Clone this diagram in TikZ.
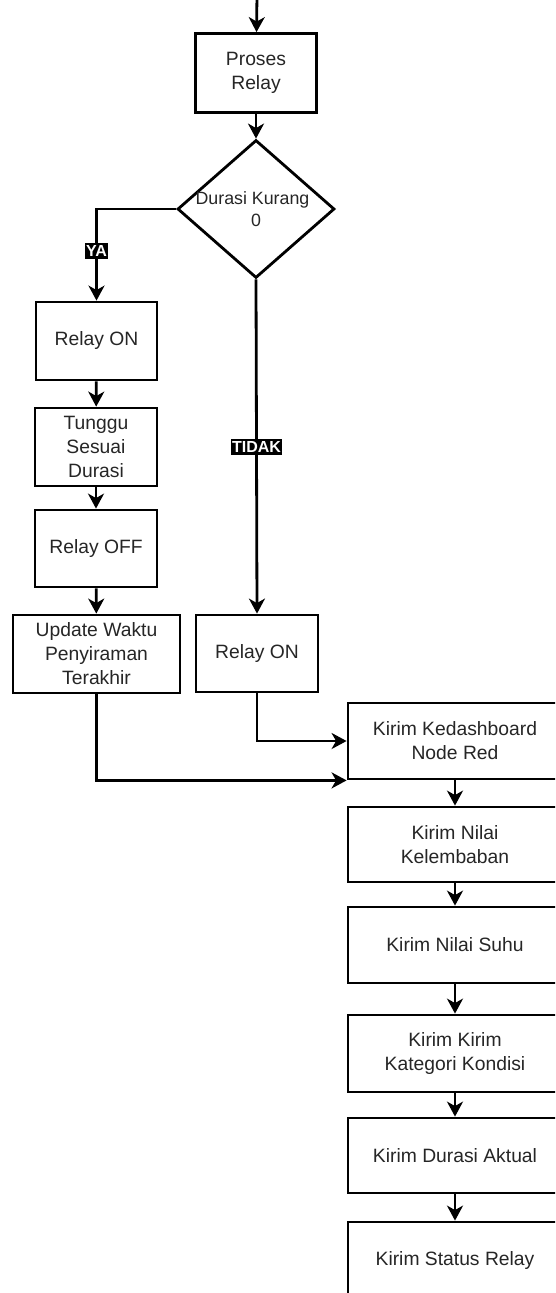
\documentclass[tikz,border=0pt]{standalone}
\usepackage{fontspec}
\setmainfont{Liberation Sans}
\usetikzlibrary{shapes.geometric,arrows.meta}
\definecolor{txt}{HTML}{262626}
\begin{document}
\begin{tikzpicture}[x=1pt,y=-1pt,
  box/.style={draw=black,line width=2.8pt,rectangle,inner sep=0pt,align=center,text=txt,
    font=\fontsize{19.3}{24}\selectfont},
  dia/.style={draw=black,line width=2.8pt,diamond,aspect=1.138,inner sep=0pt,align=center,text=txt,
    minimum width=157pt,minimum height=138pt,font=\fontsize{17.8}{22.5}\selectfont},
  flow/.style={draw=black,line width=2.8pt,-{Stealth[length=15pt,width=16pt,inset=4.5pt]}},
  tag/.style={fill=black,text=white,inner xsep=1pt,inner ysep=2.5pt,
    font=\fontsize{16}{16}\selectfont\bfseries}
]
\useasboundingbox (0,0) rectangle (555,1293);
\clip (0,0) rectangle (555,1293);
\fill[white] (0,0) rectangle (555,1293);

\coordinate (start) at (257,-5);
\node[box,minimum width=121pt,minimum height=79pt] (proses) at (256,73) {Proses\\Relay};
\node[dia] (dec) at (256,209) {\makebox[0pt]{\hspace*{-7pt}Durasi Kurang}\\0};
\node[box,minimum width=121pt,minimum height=78pt] (relon1) at (96.5,341) {Relay ON};
\node[box,minimum width=122pt,minimum height=78pt] (tunggu) at (96,447) {Tunggu\\Sesuai\\Durasi};
\node[box,minimum width=122pt,minimum height=77pt] (reloff) at (96,548.5) {Relay OFF};
\node[box,minimum width=167pt,minimum height=78pt] (update) at (96.5,654) {Update Waktu\\Penyiraman\\Terakhir};
\node[box,minimum width=122pt,minimum height=77pt] (relon2) at (257,653.5) {Relay ON};
\node[box,minimum width=214pt,minimum height=76pt] (k1) at (455,741) {Kirim Kedashboard\\Node Red};
\node[box,minimum width=214pt,minimum height=75pt] (k2) at (455,844.5) {Kirim Nilai\\Kelembaban};
\node[box,minimum width=214pt,minimum height=76pt] (k3) at (455,945) {Kirim Nilai Suhu};
\node[box,minimum width=214pt,minimum height=77pt] (k4) at (455,1053.5) {Kirim Kirim\\Kategori Kondisi};
\node[box,minimum width=214pt,minimum height=75pt] (k5) at (455,1155.5) {Kirim Durasi Aktual};
\node[box,minimum width=214pt,minimum height=76pt] (k6) at (455,1260) {Kirim Status Relay};

\draw[flow] (start) -- (proses);
\draw[flow] (proses) -- (dec);
\draw[flow] (dec.west) -| (relon1.north) node[tag,pos=0.73] (ya) {YA};
\draw[flow] (relon1) -- (tunggu);
\draw[flow] (tunggu) -- (reloff);
\draw[flow] (reloff) -- (update);
\draw[flow] (dec.south) -- (relon2.north) node[tag,pos=0.5] (tidak) {TIDAK};
\draw[flow] (relon2.south) |- (k1.west);
\draw[flow] (update.south) |- (k1.south west);
\draw[flow] (k1) -- (k2);
\draw[flow] (k2) -- (k3);
\draw[flow] (k3) -- (k4);
\draw[flow] (k4) -- (k5);
\draw[flow] (k5) -- (k6);
\end{tikzpicture}
\end{document}
